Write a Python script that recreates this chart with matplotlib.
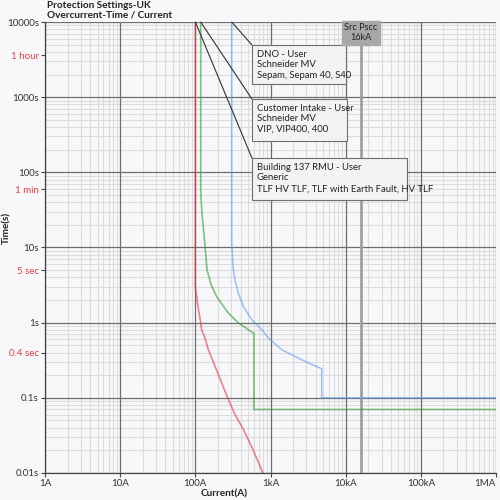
import matplotlib
matplotlib.use("Agg")
import matplotlib.pyplot as plt
from matplotlib.patches import Rectangle

plt.rcParams['font.family'] = ['Lato', 'DejaVu Sans']

# ---- data ----
red_I = [100, 100, 104, 110, 118, 121, 134, 149, 183, 224, 275, 337, 435, 585, 794]
red_t = [10000, 2.9, 2.24, 1.49, 1.0, 0.81, 0.626, 0.437, 0.262, 0.158, 0.095, 0.06, 0.038, 0.0204, 0.01]

green_I = [118, 118, 120, 123, 130, 143, 162, 192, 272, 370, 600, 600, 1e6]
green_t = [10000, 60, 40, 27, 15.7, 5.07, 3.2, 2.22, 1.36, 1.0, 0.72, 0.07, 0.07]

blue_I = [305, 305, 320, 337, 373, 435, 562, 764, 935, 1409, 2118, 3186, 4800, 4800, 1e6]
blue_t = [10000, 11.6, 5.07, 3.73, 2.48, 1.65, 1.1, 0.81, 0.626, 0.437, 0.356, 0.291, 0.244, 0.1, 0.1]

x_ticks = [1, 10, 100, 1e3, 1e4, 1e5, 1e6]
x_labels = ["1A", "10A", "100A", "1kA", "10kA", "100kA", "1MA"]
y_ticks = [0.01, 0.1, 1, 10, 100, 1000, 10000]
y_labels = ["0.01s", "0.1s", "1s", "10s", "100s", "1000s", "10000s"]
special_t = [3600, 60, 5, 0.4]
special_labels = ["1 hour", "1 min", "5 sec", "0.4 sec"]

pscc = 16000
pscc_label = "Src Pscc\n16kA"

devices = [
    ("DNO - User\nSchneider MV\nSepam, Sepam 40, S40", blue_I[0], (0.459, 0.862, 0.208, 0.087)),
    ("Customer Intake - User\nSchneider MV\nVIP, VIP400, 400", green_I[0], (0.459, 0.736, 0.211, 0.093)),
    ("Building 137 RMU - User\nGeneric\nTLF HV TLF, TLF with Earth Fault, HV TLF", red_I[0], (0.459, 0.605, 0.344, 0.093)),
]

bg = '#f8f8fb'
fig = plt.figure(figsize=(5, 5), dpi=100, facecolor=bg)
ax = fig.add_axes([0.09, 0.054, 0.902, 0.902], facecolor=bg)
ax.set_xscale('log')
ax.set_yscale('log')
ax.set_xlim(1, 1e6)
ax.set_ylim(0.01, 10000)

# grid
for d in range(0, 6):
    for m in range(2, 10):
        ax.axvline(m * 10 ** d, color='#dcdcdc', lw=0.8, zorder=0)
for d in range(-2, 4):
    for m in range(2, 10):
        ax.axhline(m * 10.0 ** d, color='#dcdcdc', lw=0.8, zorder=0)
for v in x_ticks:
    ax.axvline(v, color='#6e6e6e', lw=0.9, zorder=0.5)
for v in y_ticks:
    ax.axhline(v, color='#6e6e6e', lw=0.9, zorder=0.5)

# source Pscc line
ax.axvline(pscc, color='#a0a0a0', lw=2.0, zorder=0.6)

# curves
ax.plot(red_I, red_t, color='#e8303a', alpha=0.6, lw=1.2, zorder=2)
ax.plot(green_I, green_t, color='#2e9a2e', alpha=0.6, lw=1.2, zorder=2)
ax.plot(blue_I, blue_t, color='#5a96f0', alpha=0.55, lw=1.2, zorder=2)

# annotation boxes
for text, I0, (bx, by, bw, bh) in devices:
    ax.annotate('', xy=(I0, 10000), xycoords='data', xytext=(bx, by + bh),
                textcoords='axes fraction',
                arrowprops=dict(arrowstyle='-', color='#333333', lw=0.8,
                                shrinkA=0, shrinkB=0), zorder=3)
    ax.add_patch(Rectangle((bx, by), bw, bh, transform=ax.transAxes,
                           facecolor='#f3f3f3', edgecolor='#707070', lw=0.8, zorder=4))
    ax.text(bx + 0.011, by + bh - 0.01, text, transform=ax.transAxes,
            ha='left', va='top', fontsize=6.8, color='#222222', linespacing=1.25, zorder=5)

# Pscc label box
ax.text(pscc, 0.976, pscc_label, transform=ax.get_xaxis_transform(),
        ha='center', va='center', fontsize=6.6, color='#222222', linespacing=1.15,
        bbox=dict(boxstyle='square,pad=0.3', facecolor='#a8a8a8', edgecolor='#a8a8a8'),
        zorder=5)

# ticks
all_y = y_ticks + special_t
all_ylab = y_labels + special_labels
ax.set_yticks(all_y)
ax.set_yticklabels(all_ylab)
ax.set_xticks(x_ticks)
ax.set_xticklabels(x_labels)
ax.minorticks_off()
ax.tick_params(axis='both', which='major', length=3, width=0.8, color='#444444',
               labelsize=7, labelcolor='#333333', pad=1.5)
for tk, lab in zip(ax.yaxis.get_major_ticks(), all_ylab):
    if lab in special_labels:
        tk.tick1line.set_color('#e04040')
        tk.label1.set_color('#e04040')
xlabs = ax.get_xticklabels()
xlabs[-1].set_horizontalalignment('right')
xlabs[-1].set_x(1e6)

for s in ['top', 'right']:
    ax.spines[s].set_visible(False)
for s in ['left', 'bottom']:
    ax.spines[s].set_color('#444444')
    ax.spines[s].set_linewidth(0.9)

# titles and labels
fig.text(0.094, 0.999, "Protection Settings-UK\nOvercurrent-Time / Current",
         ha='left', va='top', fontsize=7.2, fontweight='bold', color='#222222', linespacing=1.2)
fig.text(0.014, 0.545, "Time(s)", rotation=90, ha='center', va='center',
         fontsize=7.2, fontweight='bold', color='#222222')
fig.text(0.448, 0.013, "Current(A)", ha='center', va='center',
         fontsize=7.2, fontweight='bold', color='#222222')

fig.savefig('out.png', dpi=100, facecolor=bg)
